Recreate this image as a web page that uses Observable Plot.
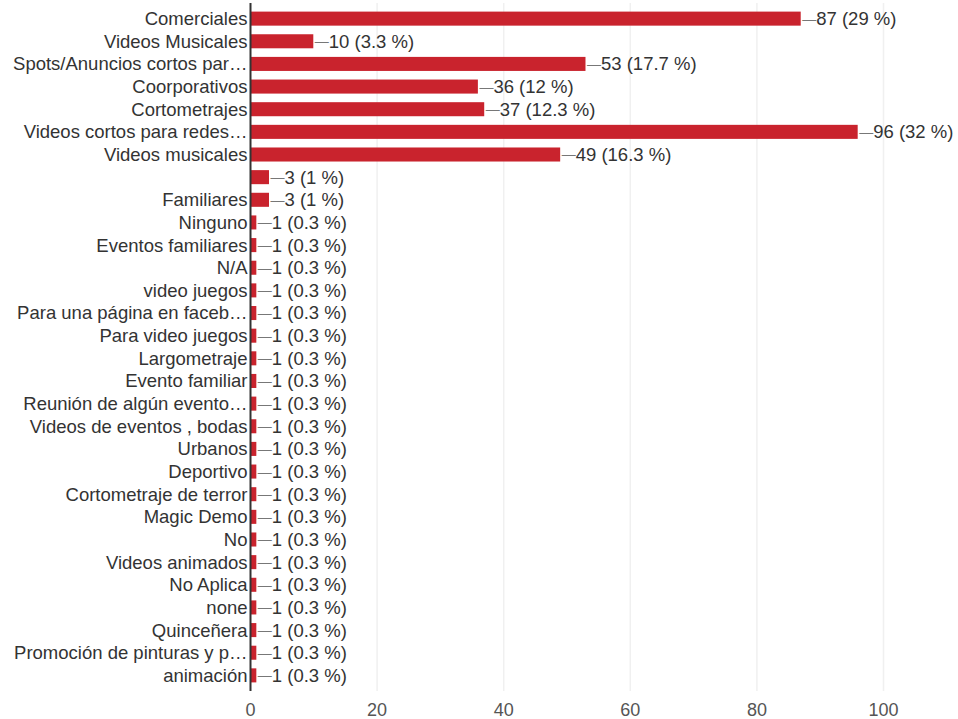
<!DOCTYPE html>
<html>
<head>
<meta charset="utf-8">
<script src="https://cdn.jsdelivr.net/npm/d3@7"></script>
<script src="https://cdn.jsdelivr.net/npm/@observablehq/plot@0.6"></script>
<style>
  html, body { margin: 0; padding: 0; background: #fff; }
  #chart svg { display: block; }
</style>
</head>
<body>
<div id="chart"></div>
<script>
const categories = [
  "Comerciales", "Videos Musicales", "Spots/Anuncios cortos par…", "Coorporativos",
  "Cortometrajes", "Videos cortos para redes…", "Videos musicales", "",
  "Familiares", "Ninguno", "Eventos familiares", "N/A", "video juegos",
  "Para una página en faceb…", "Para video juegos", "Largometraje", "Evento familiar",
  "Reunión de algún evento…", "Videos de eventos , bodas", "Urbanos", "Deportivo",
  "Cortometraje de terror", "Magic Demo", "No", "Videos animados", "No Aplica",
  "none", "Quinceñera", "Promoción de pinturas y p…", "animación"
];
const counts = [87, 10, 53, 36, 37, 96, 49, 3, 3, 1, 1, 1, 1, 1, 1, 1, 1, 1, 1, 1, 1, 1, 1, 1, 1, 1, 1, 1, 1, 1];
const percents = ["29", "3.3", "17.7", "12", "12.3", "32", "16.3", "1", "1",
  "0.3", "0.3", "0.3", "0.3", "0.3", "0.3", "0.3", "0.3", "0.3", "0.3", "0.3",
  "0.3", "0.3", "0.3", "0.3", "0.3", "0.3", "0.3", "0.3", "0.3", "0.3"];
const xTicks = [0, 20, 40, 60, 80, 100];

const rows = categories.map((c, i) => ({i, cat: c, n: counts[i], pct: percents[i]}));

const chart = Plot.plot({
  width: 958,
  height: 719,
  marginLeft: 250,
  marginRight: 75,
  marginTop: 3,
  marginBottom: 28,
  style: {fontFamily: "'Liberation Sans', Arial, sans-serif", color: "#333", background: "#fff"},
  x: {domain: [0, 100], ticks: xTicks, label: null},
  y: {domain: rows.map(d => d.i), padding: 0.38, round: false, label: null},
  marks: [
    Plot.ruleX(xTicks.filter(t => t > 0), {stroke: "#f0f0f0", strokeWidth: 1.5}),
    Plot.barX(rows, {x: "n", y: "i", fill: "#c9232d"}),
    Plot.text(rows, {x: "n", y: "i", text: () => "—", textAnchor: "start", dx: 1, fontSize: 14, fill: "#777"}),
    Plot.text(rows, {x: "n", y: "i", text: d => `${d.n} (${d.pct} %)`, textAnchor: "start", dx: 15, fontSize: 18.5, fill: "#333"}),
    Plot.ruleX([0], {stroke: "#333", strokeWidth: 2}),
    Plot.axisY({tickSize: 0, tickPadding: 3, fontSize: 18.5, tickFormat: i => categories[i], textOverflow: null, lineWidth: Infinity, fill: "#333", label: null}),
    Plot.axisX({ticks: xTicks, tickSize: 0, tickPadding: 12, fontSize: 18, fill: "#555", label: null})
  ]
});
document.getElementById("chart").appendChild(chart);
</script>
</body>
</html>
